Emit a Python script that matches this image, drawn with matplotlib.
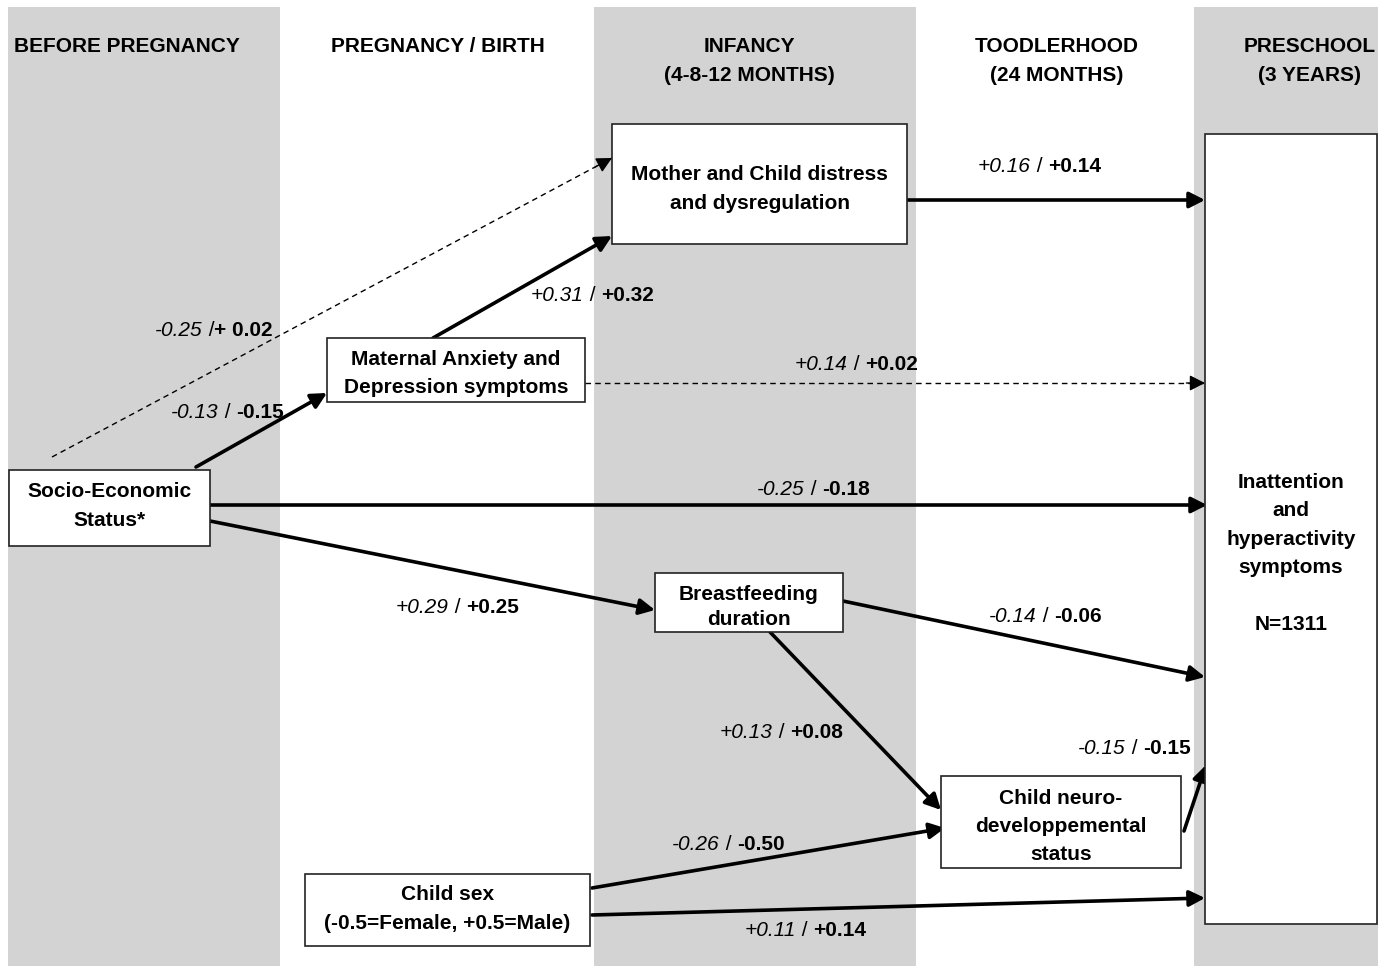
import matplotlib
matplotlib.use("Agg")
import matplotlib.pyplot as plt
from matplotlib.patches import Rectangle, FancyArrowPatch

plt.rcParams['font.family'] = ['Liberation Sans', 'DejaVu Sans']

W, H = 1383, 966
fig = plt.figure(figsize=(W / 100, H / 100), dpi=100)
ax = fig.add_axes([0, 0, 1, 1])
ax.set_xlim(0, W)
ax.set_ylim(H, 0)
ax.axis('off')

# ---------------- data ----------------
periods = [["BEFORE PREGNANCY"], ["PREGNANCY / BIRTH"], ["INFANCY", "(4-8-12 MONTHS)"],
           ["TOODLERHOOD", "(24 MONTHS)"], ["PRESCHOOL", "(3 YEARS)"]]

node_keys = ["mcd", "mat", "ses", "bf", "neuro", "sex", "out"]
node_texts = [["Mother and Child distress", "and dysregulation"],
              ["Maternal Anxiety and", "Depression symptoms"],
              ["Socio-Economic", "Status*"],
              ["Breastfeeding", "duration"],
              ["Child neuro-", "developpemental", "status"],
              ["Child sex", "(-0.5=Female, +0.5=Male)"],
              ["Inattention", "and", "hyperactivity", "symptoms", "", "N=1311"]]

path_from = ["ses", "mat", "mcd", "ses", "mat", "ses", "ses", "bf", "bf", "sex", "sex", "neuro"]
path_to = ["mcd", "mcd", "out", "mat", "out", "out", "bf", "out", "neuro", "neuro", "out", "out"]
coef_unadjusted = ["-0.25", "+0.31", "+0.16", "-0.13", "+0.14", "-0.25", "+0.29", "-0.14", "+0.13", "-0.26", "+0.11", "-0.15"]
coef_adjusted = ["+ 0.02", "+0.32", "+0.14", "-0.15", "+0.02", "-0.18", "+0.25", "-0.06", "+0.08", "-0.50", "+0.14", "-0.15"]
significant = [False, True, True, True, False, True, True, True, True, True, True, True]

# ---------------- layout (pixels) ----------------
band_x = [(8, 280), (594, 916), (1194, 1378)]
period_cx = [127, 438, 749, 1057, 1310]

node_box = {
    "mcd": (612, 124, 907, 244),
    "mat": (327, 338, 585, 402),
    "ses": (9, 470, 210, 546),
    "bf": (655, 573, 843, 632),
    "neuro": (941, 776, 1181, 868),
    "sex": (305, 874, 590, 946),
    "out": (1205, 134, 1377, 924),
}
node_first_y = {"mcd": 173, "mat": 358, "ses": 490, "bf": 593, "neuro": 797, "sex": 893, "out": 481}
node_step = {"mcd": 29, "mat": 28, "ses": 29, "bf": 25, "neuro": 28, "sex": 29, "out": 28.3}

arrow_xy = [((52, 457), (612, 158)), ((433, 338), (612, 236)), ((905, 200), (1205, 200)),
            ((196, 467), (327, 393)), ((585, 383), (1205, 383)), ((210, 505), (1207, 505)),
            ((210, 521), (655, 610)), ((843, 601), (1205, 677)), ((770, 632), (941, 810)),
            ((592, 888), (945, 828)), ((592, 915), (1205, 898)), ((1184, 831), (1206, 765))]
label_xy = [(155, 329), (531, 294), (978, 165), (171, 411), (795, 363), (757, 488),
            (396, 606), (989, 615), (720, 731), (672, 843), (745, 929), (1078, 747)]
label_sep = [" /", " / ", " / ", " / ", " / ", " / ", " / ", " / ", " / ", " / ", " / ", " / "]

FS = 15
BASE = 7  # offset from visual centre of capitals to baseline (px)
HEAD = "-|>,head_length=0.55,head_width=0.28"

# bands
for x0, x1 in band_x:
    ax.add_patch(Rectangle((x0, 7), x1 - x0, H - 7, facecolor="#d3d3d3", edgecolor="none", zorder=0))

# period headers
for cx, lines in zip(period_cx, periods):
    for i, ln in enumerate(lines):
        ax.text(cx, 45 + 29 * i + BASE, ln, ha="center", va="baseline", fontsize=FS,
                fontweight="bold", zorder=5)

# nodes
for key, lines in zip(node_keys, node_texts):
    x0, y0, x1, y1 = node_box[key]
    ax.add_patch(Rectangle((x0, y0), x1 - x0, y1 - y0, facecolor="white", edgecolor="#222222",
                           lw=1.2, zorder=3))
    for i, ln in enumerate(lines):
        if ln:
            ax.text((x0 + x1) / 2, node_first_y[key] + node_step[key] * i + BASE, ln,
                    ha="center", va="baseline", fontsize=FS, fontweight="bold", zorder=4)

# arrows
for (p0, p1), sig in zip(arrow_xy, significant):
    if sig:
        arr = FancyArrowPatch(p0, p1, arrowstyle=HEAD, mutation_scale=17, lw=2.6,
                              color="black", shrinkA=0, shrinkB=0, zorder=2)
        ax.add_patch(arr)
    else:
        ax.plot([p0[0], p1[0]], [p0[1], p1[1]], color="black", lw=1.0,
                linestyle=(0, (4, 3)), zorder=2)
        # solid arrow head at the end of the dashed path
        fx = p0[0] + (p1[0] - p0[0]) * 0.97
        fy = p0[1] + (p1[1] - p0[1]) * 0.97
        arr = FancyArrowPatch((fx, fy), p1, arrowstyle=HEAD, mutation_scale=17, lw=1.0,
                              color="black", shrinkA=0, shrinkB=0, zorder=2)
        ax.add_patch(arr)

# coefficient labels
fig.canvas.draw()
renderer = fig.canvas.get_renderer()


def right_edge(t):
    bb = t.get_window_extent(renderer)
    return ax.transData.inverted().transform((bb.x1, bb.y0))[0]


for (x, y), u, a, sep in zip(label_xy, coef_unadjusted, coef_adjusted, label_sep):
    t1 = ax.text(x, y + BASE, u, style="italic", fontsize=FS, ha="left", va="baseline", zorder=5)
    x2 = right_edge(t1)
    t2 = ax.text(x2, y + BASE, sep, fontsize=FS, ha="left", va="baseline", zorder=5)
    x3 = right_edge(t2)
    ax.text(x3, y + BASE, a, fontsize=FS, fontweight="bold", ha="left", va="baseline", zorder=5)

fig.savefig("out.png", dpi=100)
